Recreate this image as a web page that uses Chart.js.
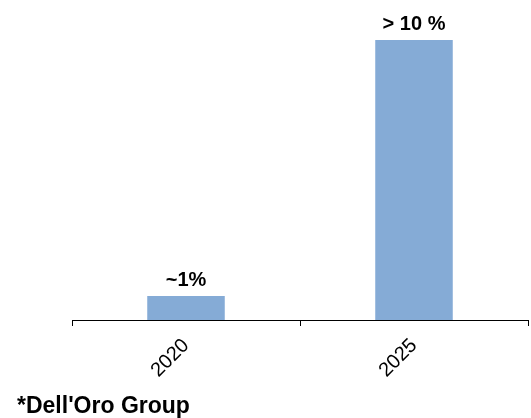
<!DOCTYPE html>
<html>
<head>
<meta charset="utf-8">
<script src="https://cdn.jsdelivr.net/npm/chart.js@4.4.1/dist/chart.umd.min.js"></script>
<style>
  body { margin: 0; background: #fff; }
  #wrap { position: relative; width: 531px; height: 418px; }
  #src { position: absolute; left: 17px; top: 392px; font: bold 23px "Liberation Sans", Arial, sans-serif; color: #000; }
</style>
</head>
<body>
<div id="wrap">
  <canvas id="chart" width="531" height="418"></canvas>
  <div id="src">*Dell'Oro Group</div>
</div>
<script>
let years = ["2020", "2025"];
let share = [1, 11.67];
let shareLabels = ["~1%", "> 10 %"];

// draws the text above each bar
let barLabels = {
  id: "barLabels",
  afterDatasetsDraw(chart) {
    let c = chart.ctx;
    let meta = chart.getDatasetMeta(0);
    c.save();
    c.font = "bold 20px 'Liberation Sans', Arial, sans-serif";
    c.fillStyle = "#000";
    c.textAlign = "center";
    c.textBaseline = "alphabetic";
    meta.data.forEach((bar, i) => {
      c.fillText(shareLabels[i], bar.x, bar.y - 10);
    });
    c.restore();
  }
};

let cht = new Chart(document.getElementById("chart"), {
  type: "bar",
  data: {
    labels: years,
    datasets: [{
      data: share,
      backgroundColor: "#85abd6",
      barPercentage: 0.34,
      categoryPercentage: 1
    }]
  },
  options: {
    responsive: false,
    animation: false,
    layout: { padding: { left: 72, right: 3, top: 32, bottom: 0 } },
    plugins: { legend: { display: false }, tooltip: { enabled: false } },
    scales: {
      y: { display: false, min: 0, max: 12 },
      x: {
        afterFit(scale) { scale.height = 98; },
        border: { color: "#000", width: 1 },
        grid: { drawOnChartArea: false, tickLength: 6, color: "#000", offset: true },
        ticks: {
          color: "#000",
          maxRotation: 45,
          minRotation: 45,
          padding: 8,
          font: { size: 20, family: "'Liberation Sans', Arial, sans-serif" }
        }
      }
    }
  },
  plugins: [barLabels]
});
</script>
</body>
</html>
